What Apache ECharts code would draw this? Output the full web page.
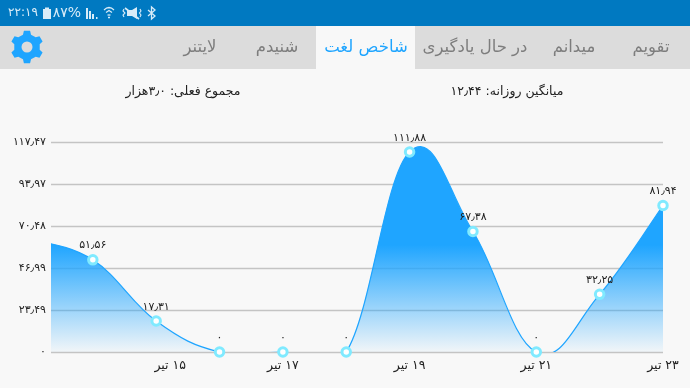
<!DOCTYPE html>
<html dir="rtl" lang="fa">
<head>
<meta charset="utf-8">
<style>html,body{margin:0;padding:0;background:#f8f8f8}#c{width:690px;height:388px}</style>
<script src="https://cdn.jsdelivr.net/npm/echarts@6/dist/echarts.min.js"></script>
</head>
<body>
<div id="c"></div>
<script>
const FONT = '"DejaVu Sans","Noto Sans",sans-serif';
const days = [13,14,15,16,17,18,19,20,21,22,23];
const values = [63,51.56,17.31,0,0,0,111.88,67.38,0,32.25,81.94];
const pointLabels = ['','۵۱٫۵۶','۱۷٫۳۱','۰','۰','۰','۱۱۱٫۸۸','۶۷٫۳۸','۰','۳۲٫۲۵','۸۱٫۹۴'];
const xTickDays = [15,17,19,21,23];
const xTickLabels = ['۱۵ تیر','۱۷ تیر','۱۹ تیر','۲۱ تیر','۲۳ تیر'];
const yTickLabels = ['۰','۲۳٫۴۹','۴۶٫۹۹','۷۰٫۴۸','۹۳٫۹۷','۱۱۷٫۴۷'];
const tabs = ['لایتنر','شنیدم','شاخص لغت','در حال یادگیری','میدانم','تقویم'];
const tabX = [200,277,366,475,574,651];
const activeTab = 2;
const summaryLeft = 'مجموع فعلی: ۳٫۰هزار';
const summaryRight = 'میانگین روزانه: ۱۲٫۴۴';
const statusTime = '۲۲:۱۹';
const statusBattery = '۸۷%';
const BLUE = '#1fa5ff';
const ICON = '#d8ecf8';

function gearPoints(cx, cy, rIn, rOut, n) {
  const out = [];
  const step = Math.PI * 2 / n;
  for (let i = 0; i < n; i++) {
    const a = i * step - Math.PI / 2;
    [[rIn, a - step*0.30],[rOut, a - step*0.18],[rOut, a + step*0.18],[rIn, a + step*0.30]].forEach(p => {
      out.push([cx + p[0]*Math.cos(p[1]), cy + p[0]*Math.sin(p[1])]);
    });
  }
  return out;
}
const line = (pts,w) => ({type:'polyline',shape:{points:pts},style:{fill:'none',stroke:ICON,lineWidth:w||1.3},silent:true});
const box = (x,y,w,h,fill) => ({type:'rect',shape:{x,y,width:w,height:h},style:{fill:fill||ICON},silent:true});
const label = (text,x,y,fill,size) => ({type:'text',x,y,silent:true,style:{text,fill,font:size+'px '+FONT,align:'center',verticalAlign:'middle'}});

const chrome = [
  box(0,0,690,26,'#0079c1'),
  box(0,26,690,43,'#dcdcdc'),
  box(316,26,99,43,'#f8f8f8'),
  {type:'polygon',shape:{points:gearPoints(27,47,13,16.5,6)},style:{fill:BLUE},silent:true},
  {type:'circle',shape:{cx:27,cy:47,r:5.5},style:{fill:'#dcdcdc'},silent:true},
  label(statusTime,23,12.5,ICON,12),
  box(43,9,8,10), box(45,7.5,4,2),
  label(statusBattery,67,13,ICON,14),
  box(86,8,2,11), box(89,11,2,8), box(92,14,2,5), box(96,17,1.5,2),
  line([[104,10],[106.5,8],[109,7.5],[111.5,8],[114,10]]),
  line([[106,12.5],[109,10.5],[112,12.5]]),
  line([[107.5,15],[110.5,15]]),
  line([[108,17.5],[110,17.5]]),
  {type:'polygon',shape:{points:[[127,10],[132,10],[137,7],[137,19],[132,16],[127,16]]},style:{fill:ICON},silent:true},
  line([[125,8],[139,19]],1.6),
  line([[124,9],[123,11],[125,13],[123,15],[124,17]],1.1),
  line([[140,9],[141,11],[139.5,13],[141,15],[140,17]],1.1),
  line([[148,10],[155,16],[151.5,19],[151.5,7],[155,10],[148,16]])
];
tabs.forEach((t,i)=>chrome.push(label(t,tabX[i],48,i===activeTab?BLUE:'#7d7d7d',16.5)));
chrome.push(label(summaryLeft,183,92,'#222',12.5));
chrome.push(label(summaryRight,507,92,'#222',12.5));

const yMax = 117.47;
// cubic curve through the data values, drawn through the axis scales
function renderCurve(params, api) {
  if (params.dataIndex !== 0) return null;
  const pts = days.map((d,i)=>api.coord([d,values[i]]));
  const k = 0.2;
  let d = 'M'+pts[0][0]+' '+pts[0][1];
  for (let i=0;i<pts.length-1;i++){
    const p=pts[Math.max(i-1,0)],c=pts[i],n=pts[i+1],nn=pts[Math.min(i+2,pts.length-1)];
    d+='C'+(c[0]+k*(n[0]-p[0]))+' '+(c[1]+k*(n[1]-p[1]))+' '+(n[0]-k*(nn[0]-c[0]))+' '+(n[1]-k*(nn[1]-c[1]))+' '+n[0]+' '+n[1];
  }
  const base=api.coord([days[0],0])[1];
  const top=api.coord([days[0],yMax])[1];
  const last=pts[pts.length-1];
  const area=d+'L'+last[0]+' '+base+'L'+pts[0][0]+' '+base+'Z';
  return {type:'group',children:[
    {type:'path',shape:{pathData:area},style:{fill:new echarts.graphic.LinearGradient(0,top,0,base,[{offset:0,color:BLUE},{offset:0.49,color:BLUE},{offset:1,color:'rgba(31,165,255,0.03)'}],true),stroke:'none'}},
    {type:'path',shape:{pathData:d},style:{fill:'none',stroke:BLUE,lineWidth:1.2}}
  ]};
}

const chart = echarts.init(document.getElementById('c'));
chart.setOption({
  animation:false,
  backgroundColor:'#f8f8f8',
  grid:{left:51,right:27,top:142,bottom:36},
  graphic:{elements:chrome},
  xAxis:{type:'value',min:13.34,max:23,splitLine:{show:false},axisLine:{show:false},axisTick:{show:false},
    axisLabel:{customValues:xTickDays,hideOverlap:false,showMinLabel:true,showMaxLabel:true,margin:7,
      color:'#222',fontSize:12.5,fontFamily:FONT,
      formatter:v=>{const i=xTickDays.indexOf(v);return i===0?'{s|'+xTickLabels[i]+'}':xTickLabels[i];},
      rich:{s:{padding:[0,0,0,28],color:'#222',fontSize:12.5,fontFamily:FONT}}}},
  yAxis:{type:'value',min:0,max:yMax,interval:23.494,
    axisLine:{show:false},axisTick:{show:false},
    splitLine:{lineStyle:{color:'#c4c4c4',width:1.3}},
    axisLabel:{margin:5,color:'#222',fontSize:11,fontFamily:FONT,formatter:(v,i)=>yTickLabels[i]}},
  series:[
    {type:'custom',clip:true,silent:true,renderItem:renderCurve,encode:{x:0,y:1},data:days.map((d,i)=>[d,values[i]]),z:2},
    {type:'line',clip:false,silent:true,z:3,smooth:false,lineStyle:{width:0,opacity:0},showSymbol:true,showAllSymbol:true,
      symbol:'circle',symbolSize:8.5,itemStyle:{color:'#ffffff',borderColor:'#80eaff',borderWidth:3,opacity:1},
      label:{show:true,position:'top',distance:3,color:'#222',fontSize:11,fontFamily:FONT,formatter:p=>pointLabels[p.dataIndex+1]},
      labelLayout:{hideOverlap:false},
      data:days.slice(1).map((d,i)=>[d,values[i+1]])}
  ]
});
</script>
</body>
</html>
